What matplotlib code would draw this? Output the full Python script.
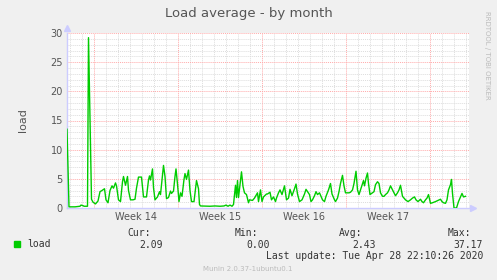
import matplotlib
matplotlib.use("Agg")
import matplotlib.pyplot as plt
import numpy as np

# hours since start of Week 14
hours = [-54, -50, -38, -28, -26, -22, -20, -13, -11, -5, -2, 3, 8, 12, 16, 21, 24, 28, 32, 36,
         39, 43, 45, 49, 53, 57, 59, 63, 67, 69, 73, 78, 82, 85, 89, 95, 99, 105, 109, 111,
         113, 117, 119, 122, 127, 131, 133, 139, 142, 145, 149, 153, 155, 159, 162, 164, 167, 170, 173, 176,
         180, 182, 185, 189, 192, 195, 200, 205, 209, 211, 213, 232, 242, 252, 260, 264, 268, 272, 276, 279,
         283, 285, 287, 289, 292, 295, 298, 301, 305, 309, 311, 317, 321, 327, 329, 333, 336, 339, 345, 347,
         352, 355, 359, 363, 365, 369, 372, 376, 381, 383, 385, 389, 392, 396, 401, 404, 407, 411, 416, 421,
         424, 427, 431, 434, 437, 441, 444, 447, 451, 454, 457, 461, 464, 469, 473, 476, 481, 483, 487, 490,
         493, 497, 500, 503, 507, 510, 513, 517, 520, 524, 527, 530, 533, 537, 539, 541, 544, 547, 549, 552,
         557, 560, 563, 567, 570, 573, 577, 580, 583, 587, 590, 593, 597, 600, 603, 607, 610, 613, 617, 623,
         628, 633, 637, 641, 644, 648, 653, 656, 659, 663, 666, 669, 673, 677, 683, 688, 693, 696, 699, 703,
         706, 709, 713, 715, 717, 720, 725, 729, 733, 736, 739, 743]
load = [13.5, 0.2, 0.2, 0.3, 0.5, 0.4, 0.3, 0.3, 29.2, 1.5, 1.0, 0.7, 1.2, 2.8, 3.0, 3.3, 1.4, 0.9, 3.0, 3.8,
        3.4, 4.3, 3.8, 1.4, 1.1, 4.5, 5.4, 3.9, 5.4, 3.0, 1.4, 1.4, 1.5, 3.4, 5.3, 5.3, 1.9, 1.9, 4.8, 5.5,
        4.8, 6.7, 3.5, 1.4, 1.9, 2.8, 2.3, 7.3, 5.4, 1.6, 1.8, 2.9, 2.5, 2.9, 5.4, 6.7, 4.1, 1.1, 2.6, 2.0,
        4.9, 5.9, 4.9, 6.5, 3.0, 1.1, 1.1, 4.7, 3.3, 0.6, 0.35, 0.3, 0.35, 0.3, 0.35, 0.5, 0.3, 0.5, 0.3, 0.6,
        3.9, 1.8, 4.7, 1.8, 4.0, 6.2, 3.7, 2.6, 2.3, 0.9, 1.4, 1.3, 1.7, 2.6, 1.1, 3.1, 1.1, 1.9, 2.4, 2.4,
        2.7, 1.4, 1.9, 1.1, 1.7, 2.6, 3.1, 2.3, 3.8, 2.6, 1.4, 1.7, 3.2, 2.1, 3.3, 4.1, 2.4, 1.1, 1.4, 2.4,
        3.2, 2.8, 2.3, 1.1, 1.4, 2.1, 2.8, 2.3, 2.6, 2.0, 1.4, 1.1, 2.0, 3.1, 4.2, 2.4, 1.4, 1.1, 1.7, 2.8,
        4.2, 5.6, 3.8, 2.6, 2.6, 2.6, 2.7, 3.1, 4.2, 6.3, 3.1, 2.3, 3.1, 4.2, 4.7, 3.8, 5.1, 6.0, 4.2, 2.3,
        2.6, 2.8, 4.0, 4.5, 4.2, 2.6, 2.0, 2.0, 2.3, 2.6, 3.1, 3.8, 3.1, 2.6, 2.1, 2.6, 3.1, 3.9, 2.0, 1.4,
        1.1, 1.4, 1.7, 1.9, 1.4, 1.1, 1.5, 1.1, 0.9, 1.4, 1.7, 2.3, 0.8, 0.9, 1.1, 1.3, 1.5, 1.1, 0.9, 0.8,
        1.4, 3.1, 4.0, 4.9, 2.5, 0.0, 0.0, 1.1, 1.9, 2.5, 1.9, 2.0]

week_labels = ["Week 14", "Week 15", "Week 16", "Week 17"]
stat_names = ["Cur:", "Min:", "Avg:", "Max:"]
stat_values = ["2.09", "0.00", "2.43", "37.17"]

BG = "#f0f0f0"
TXT = "#555555"

fig = plt.figure(figsize=(4.97, 2.80), dpi=100, facecolor=BG)
ax = fig.add_axes([67 / 497, 1 - 208 / 280, 402 / 497, 175 / 280])
ax.set_facecolor("white")

ax.set_xlim(-54, 750)
ax.set_ylim(0, 30)

# grid: minor grey per day / per unit, major red per week / per 5
for h in range(-48, 750, 24):
    if h % 168 != 0:
        ax.axvline(h, color="#dddddd", lw=0.7, ls=(0, (1, 1)), zorder=1)
for v in range(1, 31):
    if v % 5 != 0:
        ax.axhline(v, color="#dddddd", lw=0.7, ls=(0, (1, 1)), zorder=1)
for h in range(0, 750, 168):
    ax.axvline(h, color="#ffaaaa", lw=0.7, ls=(0, (1, 1)), zorder=2)
for v in range(5, 31, 5):
    ax.axhline(v, color="#ffaaaa", lw=0.7, ls=(0, (1, 1)), zorder=2)

ax.plot(hours, load, color="#00cc00", lw=1.0, zorder=3)

ax.set_yticks(range(0, 31, 5))
ax.set_xticks([84, 252, 420, 588])
ax.set_xticklabels(week_labels)
ax.tick_params(axis="both", length=0, labelsize=7, colors=TXT, pad=3)
ax.set_ylabel("load", fontsize=8, color=TXT, labelpad=16)

for s in ["top", "right"]:
    ax.spines[s].set_visible(False)
for s in ["left", "bottom"]:
    ax.spines[s].set_color("#ccccff")
    ax.spines[s].set_linewidth(1.0)
ax.plot([0], [1.03], marker="^", color="#ccccff", ms=4, transform=ax.transAxes, clip_on=False)
ax.plot([1.01], [0], marker=">", color="#ccccff", ms=4, transform=ax.transAxes, clip_on=False)

fig.text(0.5, 1 - 13 / 280, "Load average - by month", ha="center", va="center",
         fontsize=9.5, color=TXT)
fig.text(487 / 497, 1 - 55 / 280, "RRDTOOL / TOBI OETIKER", rotation=-90, ha="center",
         va="center", fontsize=5, color="#bbbbbb")

# legend block
mono = "DejaVu Sans Mono"
fig.patches.append(plt.Rectangle((14 / 497, 1 - 247 / 280), 6 / 497, 6 / 280,
                                 transform=fig.transFigure, color="#00cc00"))
fig.text(27 / 497, 1 - 244 / 280, "load", fontsize=7, family=mono, color="#333333", va="center")
name_x = [139, 246, 351, 459]
val_x = [163, 270, 376, 483]
for nm, vl, nx, vx in zip(stat_names, stat_values, name_x, val_x):
    fig.text(nx / 497, 1 - 233 / 280, nm, fontsize=7, family=mono, color="#333333",
             ha="center", va="center")
    fig.text(vx / 497, 1 - 245 / 280, vl, fontsize=7, family=mono, color="#333333",
             ha="right", va="center")
fig.text(483 / 497, 1 - 256 / 280, "Last update: Tue Apr 28 22:10:26 2020", fontsize=7,
         family=mono, color="#333333", ha="right", va="center")
fig.text(248 / 497, 1 - 269 / 280, "Munin 2.0.37-1ubuntu0.1", fontsize=5, color="#bbbbbb",
         ha="center", va="center")

fig.savefig("out.png", dpi=100, facecolor=BG)
